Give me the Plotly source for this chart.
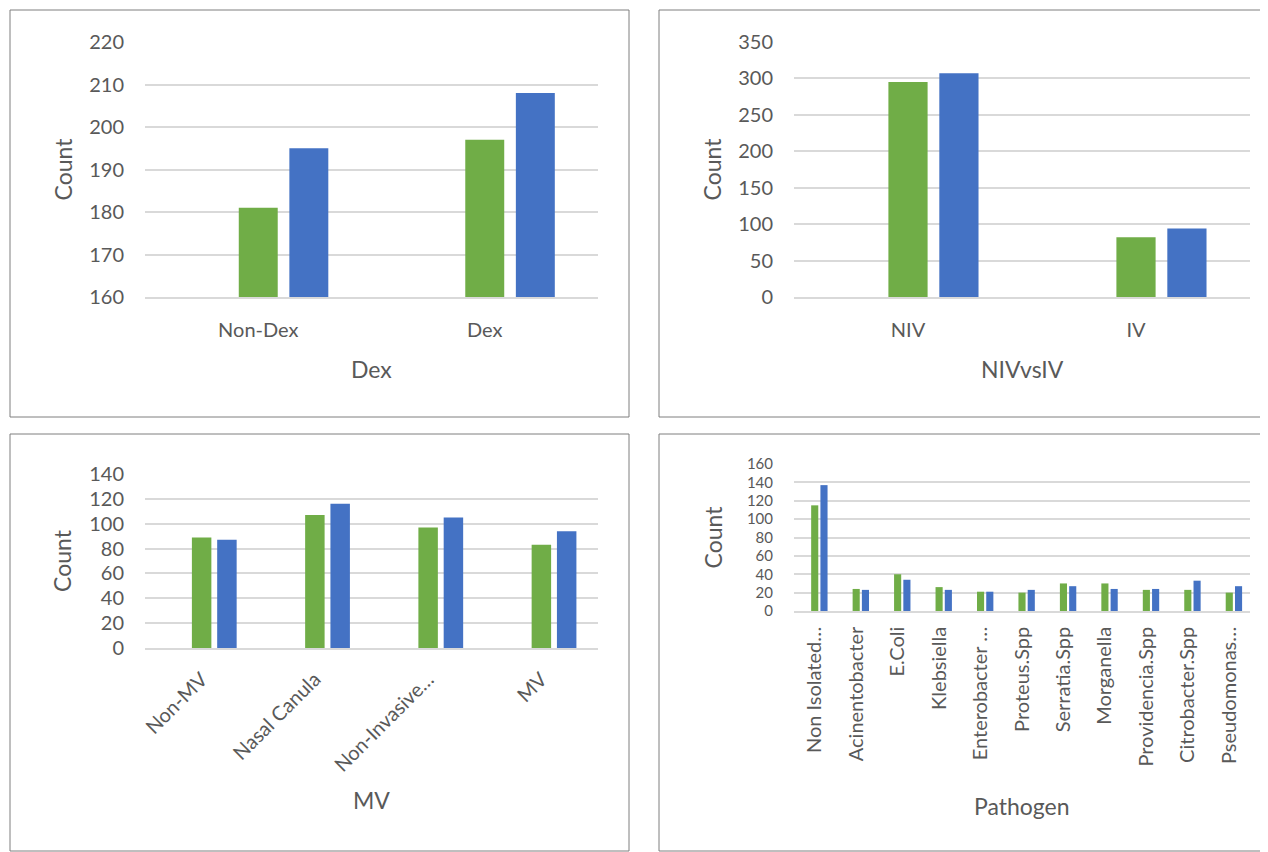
import plotly.graph_objects as go

# ---------------- data ----------------
dex_cats = ["Non-Dex", "Dex"]
dex_green = [181, 197]
dex_blue = [195, 208]

niv_cats = ["NIV", "IV"]
niv_green = [295, 82]
niv_blue = [307, 94]

mv_cats = ["Non-MV", "Nasal Canula", "Non-Invasive…", "MV"]
mv_green = [89, 107, 97, 83]
mv_blue = [87, 116, 105, 94]

path_cats = ["Non Isolated…", "Acinentobacter", "E.Coli", "Klebsiella",
             "Enterobacter …", "Proteus.Spp", "Serratia.Spp", "Morganella",
             "Providencia.Spp", "Citrobacter.Spp", "Pseudomonas…"]
path_green = [115, 24, 40, 26, 21, 20, 30, 30, 23, 23, 20]
path_blue = [137, 23, 34, 23, 21, 23, 27, 24, 24, 33, 27]

# ---------------- style ----------------
OFF = 8  # page body margin in the browser
W, H = 1268 - OFF, 852 - OFF
GREEN = "#70AD47"
BLUE = "#4472C4"
TXT = "#595959"
GRID = "#D9D9D9"
FONT = "Lato"

panels = [
    dict(cats=dex_cats, g=dex_green, b=dex_blue, xt="Dex", yr=[160, 220], dt=10,
         box=(145, 598, 42, 297), ang=0, border=(10, 629, 10, 417),
         ytx=62, xty=369, fs=20),
    dict(cats=niv_cats, g=niv_green, b=niv_blue, xt="NIVvsIV", yr=[0, 350], dt=50,
         box=(794, 1250, 42, 297), ang=0, border=(659, 1267, 10, 417),
         ytx=711, xty=369, fs=20),
    dict(cats=mv_cats, g=mv_green, b=mv_blue, xt="MV", yr=[0, 140], dt=20,
         box=(145, 598, 474, 648), ang=-45, border=(10, 629, 434, 851),
         ytx=62, xty=800, fs=20),
    dict(cats=path_cats, g=path_green, b=path_blue, xt="Pathogen", yr=[0, 160], dt=20,
         box=(794, 1250, 464, 611), ang=-90, border=(659, 1267, 434, 851),
         ytx=712, xty=806, fs=15),
]


def fx(px):
    return (px - OFF) / W


def fy(py):
    return 1 - (py - OFF) / H


fig = go.Figure()
shapes = []
annotations = []

for i, p in enumerate(panels, start=1):
    sx = "" if i == 1 else str(i)
    xa, ya = "x" + sx, "y" + sx
    # empty first series (reserves a slot like in the source chart)
    fig.add_trace(go.Bar(x=p["cats"], y=[None] * len(p["cats"]), xaxis=xa, yaxis=ya,
                         marker_color="#A5A5A5", showlegend=False, hoverinfo="skip"))
    fig.add_trace(go.Bar(x=p["cats"], y=p["g"], xaxis=xa, yaxis=ya,
                         marker=dict(color=GREEN, line=dict(width=0)), showlegend=False))
    fig.add_trace(go.Bar(x=p["cats"], y=p["b"], xaxis=xa, yaxis=ya,
                         marker=dict(color=BLUE, line=dict(width=0)), showlegend=False))

    x0, x1, yt, yb = p["box"]
    fig.layout["xaxis" + sx] = dict(
        domain=[fx(x0), fx(x1)], anchor=ya, type="category",
        showgrid=False, showline=True, linecolor=GRID, linewidth=1.5,
        ticks="", tickangle=p["ang"], automargin=False,
        tickfont=dict(family=FONT, size=20, color=TXT),
        ticklabelstandoff=14 if p["ang"] == 0 else (10 if p["ang"] == -45 else 6),
    )
    fig.layout["yaxis" + sx] = dict(
        domain=[fy(yb), fy(yt)], anchor=xa, range=p["yr"], dtick=p["dt"],
        tick0=p["yr"][0], showgrid=True, gridcolor=GRID, gridwidth=1.5,
        zeroline=False, showline=False, ticks="", automargin=False,
        tickfont=dict(family=FONT, size=p["fs"], color=TXT), ticklabelstandoff=20,
    )
    bx0, bx1, by0, by1 = p["border"]
    shapes.append(dict(type="rect", xref="paper", yref="paper",
                       x0=fx(bx0), x1=fx(bx1), y0=fy(by1), y1=fy(by0),
                       line=dict(color="#7F7F7F", width=1), fillcolor="rgba(0,0,0,0)",
                       layer="below"))
    annotations.append(dict(text="Count", xref="paper", yref="paper",
                            x=fx(p["ytx"]), y=fy((yt + yb) / 2), textangle=-90,
                            showarrow=False, xanchor="center", yanchor="middle",
                            font=dict(family=FONT, size=23, color=TXT)))
    annotations.append(dict(text=p["xt"], xref="paper", yref="paper",
                            x=fx((x0 + x1) / 2), y=fy(p["xty"]),
                            showarrow=False, xanchor="center", yanchor="middle",
                            font=dict(family=FONT, size=23, color=TXT)))

fig.update_layout(
    width=W, height=H, margin=dict(l=0, r=0, t=0, b=0),
    paper_bgcolor="white", plot_bgcolor="white",
    barmode="group", bargap=0.33, bargroupgap=0.23,
    showlegend=False, shapes=shapes, annotations=annotations,
    font=dict(family=FONT, color=TXT),
)

fig.write_html("out.html")
